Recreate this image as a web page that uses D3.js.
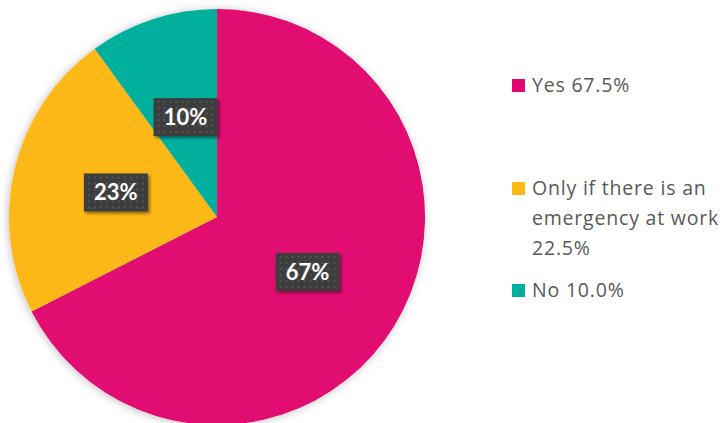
<!DOCTYPE html>
<html>
<head>
<meta charset="utf-8">
<script src="https://cdn.jsdelivr.net/npm/d3@7"></script>
<style>
  body { margin: 0; background: #fff; }
  svg { display: block; }
</style>
</head>
<body>
<div id="chart"></div>
<script>
// Pie of answers, labels in dark boxes, legend on the right.

var categories = ["Yes", "Only if there is an emergency at work", "No"];
var values = [67.5, 22.5, 10.0];
var sliceLabels = ["67%", "23%", "10%"];
var legendLines = [["Yes 67.5%"], ["Only if there is an", "emergency at work", "22.5%"], ["No 10.0%"]];
var colors = ["#e2076f", "#fbb817", "#00b09d"];

var width = 721, height = 423;
var cx = 217, cy = 217, radius = 208;

var svg = d3.select("#chart")
    .append("svg")
    .attr("width", width)
    .attr("height", height)

var defs = svg.append("defs")

// soft shadow round the pie
var pieShadow = defs.append("filter").attr("id", "pieShadow")
    .attr("x", "-10%").attr("y", "-10%").attr("width", "120%").attr("height", "120%")
pieShadow.append("feDropShadow")
    .attr("dx", -1).attr("dy", 1).attr("stdDeviation", 4)
    .attr("flood-color", "#000").attr("flood-opacity", 0.25)

var boxShadow = defs.append("filter").attr("id", "boxShadow")
    .attr("x", "-20%").attr("y", "-30%").attr("width", "150%").attr("height", "170%")
boxShadow.append("feDropShadow")
    .attr("dx", 2).attr("dy", 2).attr("stdDeviation", 1.5)
    .attr("flood-color", "#000").attr("flood-opacity", 0.45)

// dotted dark fill for the label boxes
var dots = defs.append("pattern").attr("id", "dots")
    .attr("width", 6).attr("height", 6)
    .attr("patternUnits", "userSpaceOnUse")
dots.append("rect").attr("width", 6).attr("height", 6).attr("fill", "#3d3d3d")
dots.append("rect").attr("x", 2).attr("y", 2).attr("width", 2).attr("height", 2).attr("fill", "#545454")

var pie = d3.pie().sort(null).value(function(d) { return d; })
var arcs = pie(values)
var arc = d3.arc().innerRadius(0).outerRadius(radius)
var labelArc = d3.arc().innerRadius(radius * 0.505).outerRadius(radius * 0.505)

var g = svg.append("g").attr("transform", "translate(" + cx + "," + cy + ")")

g.append("g").attr("filter", "url(#pieShadow)")
  .selectAll("path").data(arcs).enter()
  .append("path")
    .attr("d", arc)
    .attr("fill", function(d, i) { return colors[i]; })

// label boxes
var boxW = 64, boxH = 38;
var labels = g.selectAll("g.lbl").data(arcs).enter()
  .append("g").attr("class", "lbl")
  .attr("transform", function(d) {
      var c = labelArc.centroid(d);
      return "translate(" + (c[0] + 1) + "," + c[1] + ")";
  })
labels.append("rect")
    .attr("x", -boxW / 2).attr("y", -boxH / 2)
    .attr("width", boxW).attr("height", boxH)
    .attr("fill", "url(#dots)")
    .attr("filter", "url(#boxShadow)")
labels.append("text")
    .attr("text-anchor", "middle")
    .attr("dy", "0.36em")
    .style("font-family", "Lato, 'Open Sans', sans-serif")
    .style("font-weight", "bold")
    .style("font-size", "22px")
    .style("fill", "#fff")
    .text(function(d, i) { return sliceLabels[i]; })

// legend (y = baseline of the first line)
var legendY = [92, 195, 297];
var lineH = 30;
var legend = svg.selectAll("g.leg").data(categories).enter()
  .append("g").attr("class", "leg")
  .attr("transform", function(d, i) { return "translate(512," + legendY[i] + ")"; })
legend.append("rect")
    .attr("x", 0).attr("y", -13)
    .attr("width", 13).attr("height", 13)
    .attr("fill", function(d, i) { return colors[i]; })
legend.each(function(d, i) {
    var t = d3.select(this).append("text")
        .style("font-family", "'Open Sans', sans-serif")
        .style("font-size", "19.5px")
        .style("letter-spacing", "0.8px")
        .style("fill", "#595959")
    legendLines[i].forEach(function(line, j) {
        t.append("tspan").attr("x", 20).attr("y", j * lineH).text(line)
    })
})
</script>
</body>
</html>
